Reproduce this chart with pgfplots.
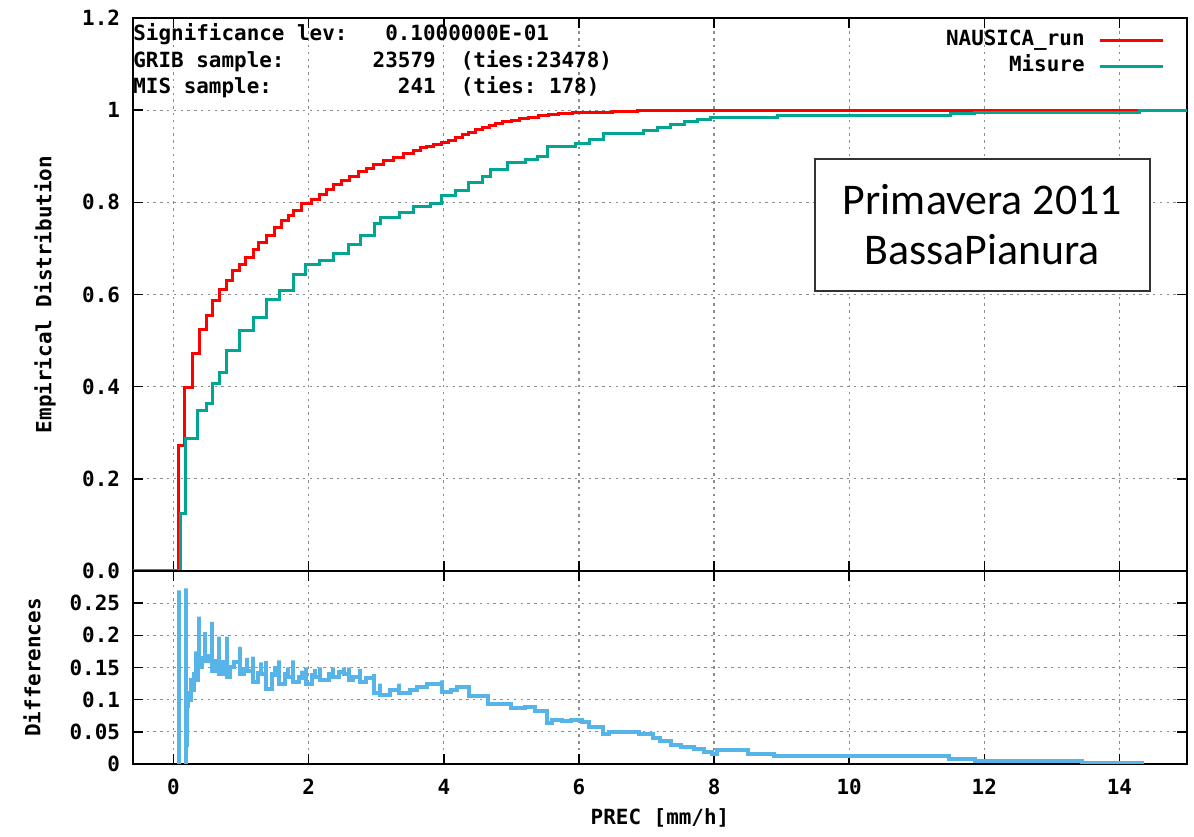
\documentclass[border=0pt]{standalone}
\usepackage{fontspec}
\setmainfont{DejaVu Sans Mono}
\newfontfamily\gnufont{DejaVu Sans Mono}
\newfontfamily\boxfont{Carlito}
\usepackage{pgfplots}
\pgfplotsset{compat=1.18}
\definecolor{cred}{RGB}{255,0,0}
\definecolor{cteal}{RGB}{0,166,146}
\definecolor{cblue}{RGB}{86,180,233}
\newcommand\gf{\gnufont\bfseries\fontsize{10.5}{12.6}\selectfont}

\pgfplotsset{gnu/.style={
  scale only axis, width=527bp,
  xmin=-0.6, xmax=15,
  xtick={0,2,4,6,8,10,12,14},
  grid=major,
  grid style={black!45, dash pattern=on 1.2bp off 2.2bp, line width=0.6bp},
  axis line style={black, line width=1bp},
  tick align=inside,
  major tick length=5bp,
  tick style={black, line width=0.8bp},
  ticklabel style={font=\gf},
  /pgf/number format/assume math mode=true,
  anchor=south west,
}}

\pgfplotstableread{
x y
-0.6 0
0.08 0.273
0.163 0.399
0.287 0.471
0.386 0.523
0.495 0.554
0.574 0.587
0.673 0.610
0.781 0.631
0.870 0.652
0.979 0.666
1.068 0.680
1.177 0.698
1.251 0.713
1.375 0.729
1.499 0.745
1.598 0.761
1.696 0.771
1.770 0.783
1.894 0.797
2.043 0.807
2.166 0.817
2.265 0.828
2.364 0.838
2.488 0.848
2.611 0.857
2.735 0.866
2.859 0.874
2.958 0.882
3.106 0.890
3.254 0.897
3.402 0.905
3.550 0.913
3.65 0.918
3.75 0.922
3.85 0.926
3.97 0.930
4.07 0.935
4.17 0.941
4.27 0.947
4.37 0.952
4.47 0.958
4.57 0.962
4.67 0.967
4.77 0.971
4.87 0.975
5.00 0.978
5.12 0.981
5.25 0.985
5.40 0.988
5.55 0.990
5.70 0.993
5.90 0.995
6.10 0.996
6.50 0.997
6.86 0.999
9.44 1.000
14.30 1.000
}\redtab

\pgfplotstableread{
x y
-0.6 0
0.100 0.125
0.178 0.287
0.361 0.348
0.495 0.364
0.574 0.406
0.682 0.431
0.791 0.478
0.979 0.522
1.177 0.550
1.375 0.590
1.563 0.608
1.770 0.644
1.958 0.666
2.166 0.673
2.364 0.688
2.586 0.709
2.760 0.727
2.967 0.753
3.056 0.767
3.343 0.778
3.550 0.790
3.800 0.797
3.970 0.814
4.170 0.825
4.370 0.843
4.570 0.857
4.690 0.872
4.940 0.886
5.210 0.893
5.380 0.900
5.530 0.922
5.950 0.927
6.150 0.937
6.370 0.949
6.960 0.955
7.160 0.962
7.360 0.969
7.560 0.976
7.760 0.980
7.950 0.984
8.550 0.985
8.940 0.988
11.50 0.992
11.86 0.996
14.30 1.000
15.00 1.000
}\tealtab

\pgfplotstableread{
x y
0.070 -0.02
0.085 0.270
0.085 -0.02
0.190 0.273
0.190 0.030
0.200 0.090
0.220 0.110
0.240 0.100
0.260 0.130
0.280 0.115
0.300 0.140
0.330 0.175
0.330 0.130
0.360 0.150
0.380 0.229
0.380 0.150
0.420 0.165
0.470 0.205
0.470 0.160
0.520 0.168
0.570 0.221
0.570 0.145
0.620 0.160
0.680 0.198
0.680 0.140
0.730 0.158
0.790 0.198
0.790 0.135
0.840 0.150
0.900 0.158
0.990 0.182
0.990 0.140
1.050 0.148
1.080 0.165
1.080 0.145
1.120 0.145
1.180 0.167
1.180 0.128
1.250 0.142
1.300 0.158
1.300 0.140
1.375 0.160
1.375 0.117
1.450 0.140
1.500 0.152
1.500 0.138
1.560 0.161
1.560 0.125
1.650 0.140
1.700 0.150
1.700 0.136
1.770 0.161
1.770 0.128
1.850 0.135
1.900 0.145
1.900 0.133
1.960 0.150
1.960 0.125
2.050 0.138
2.100 0.148
2.100 0.135
2.170 0.150
2.170 0.130
2.300 0.140
2.360 0.150
2.360 0.135
2.450 0.143
2.520 0.150
2.520 0.140
2.590 0.150
2.590 0.130
2.650 0.135
2.760 0.148
2.760 0.128
2.850 0.133
2.970 0.140
2.970 0.110
3.060 0.125
3.060 0.108
3.200 0.115
3.340 0.125
3.340 0.110
3.500 0.115
3.600 0.120
3.750 0.125
3.900 0.125
3.970 0.130
3.970 0.112
4.100 0.115
4.200 0.120
4.370 0.120
4.370 0.105
4.500 0.106
4.660 0.094
4.800 0.093
4.990 0.087
5.200 0.089
5.350 0.082
5.530 0.063
5.600 0.068
5.750 0.067
5.880 0.068
6.050 0.066
6.150 0.058
6.350 0.047
6.450 0.050
6.890 0.047
7.090 0.040
7.200 0.035
7.360 0.030
7.510 0.026
7.700 0.023
7.850 0.018
7.970 0.016
8.050 0.021
8.500 0.0155
8.890 0.012
11.47 0.0084
11.86 0.004
13.45 0.0016
14.37 0.0016
}\difftab

\begin{document}
\begin{tikzpicture}
\useasboundingbox (0,0) rectangle (597bp,418.5bp);
\begin{axis}[gnu,
  at={(66.5bp,133bp)}, height=276.5bp,
  ymin=0, ymax=1.2,
  ytick={0,0.2,0.4,0.6,0.8,1,1.2},
  yticklabels={0.0,0.2,0.4,0.6,0.8,1,1.2},
  xticklabels={},
  yticklabel style={xshift=-3bp},
  every axis y label/.style={at={(rel axis cs:0,0.5)}, xshift=-44bp, rotate=90, anchor=center, font=\gf},
  ylabel={Empirical Distribution},
  legend cell align=right,
  legend plot pos=right,
  legend style={at={(rel axis cs:1,1)}, anchor=north east, xshift=-8bp, yshift=-3.5bp,
    draw=none, fill=none, font=\gf, row sep=2.25bp, column sep=7bp,
    nodes={inner sep=0pt, text height=8bp, text depth=3bp}},
  legend image code/.code={\draw[#1, line width=1.5bp] (0bp,0bp) -- (31.5bp,0bp);},
]
\addplot[const plot, color=cred, line width=1.5bp] table[x=x,y=y] {\redtab};
\addlegendentry{NAUSICA\_run}
\addplot[const plot, color=cteal, line width=1.5bp] table[x=x,y=y] {\tealtab};
\addlegendentry{Misure}
\node[anchor=west, inner sep=0pt, font=\gf, text height=8bp, text depth=3bp] at (rel axis cs:0,1) [yshift=-9bp] {Significance~lev:~~~0.1000000E-01};
\node[anchor=west, inner sep=0pt, font=\gf, text height=8bp, text depth=3bp] at (rel axis cs:0,1) [yshift=-22.25bp] {GRIB~sample:~~~~~~~23579~~(ties:23478)};
\node[anchor=west, inner sep=0pt, font=\gf, text height=8bp, text depth=3bp] at (rel axis cs:0,1) [yshift=-35.5bp] {MIS~sample:~~~~~~~~~~241~~(ties:~178)};
\node[draw=black!80, line width=0.9bp, fill=white, minimum width=167.5bp, minimum height=66bp, inner sep=0pt, align=center, font=\boxfont\fontsize{22}{25}\selectfont] at (axis cs:11.97,0.751) {Primavera 2011\\BassaPianura};
\end{axis}
\begin{axis}[gnu,
  at={(66.5bp,36.5bp)}, height=96.5bp,
  ymin=0, ymax=0.3,
  ytick={0,0.05,0.1,0.15,0.2,0.25},
  yticklabels={0,0.05,0.1,0.15,0.2,0.25},
  xticklabels={0,2,4,6,8,10,12,14},
  yticklabel style={xshift=-3bp},
  xticklabel style={yshift=-4bp},
  every axis y label/.style={at={(rel axis cs:0,0.5)}, xshift=-50.5bp, rotate=90, anchor=center, font=\gf},
  every axis x label/.style={at={(rel axis cs:0.5,0)}, yshift=-27bp, anchor=center, font=\gf},
  ylabel={Differences},
  xlabel={PREC [mm/h]},
]
\addplot[const plot, color=cblue, line width=2bp] table[x=x,y=y] {\difftab};
\end{axis}
\end{tikzpicture}
\end{document}
